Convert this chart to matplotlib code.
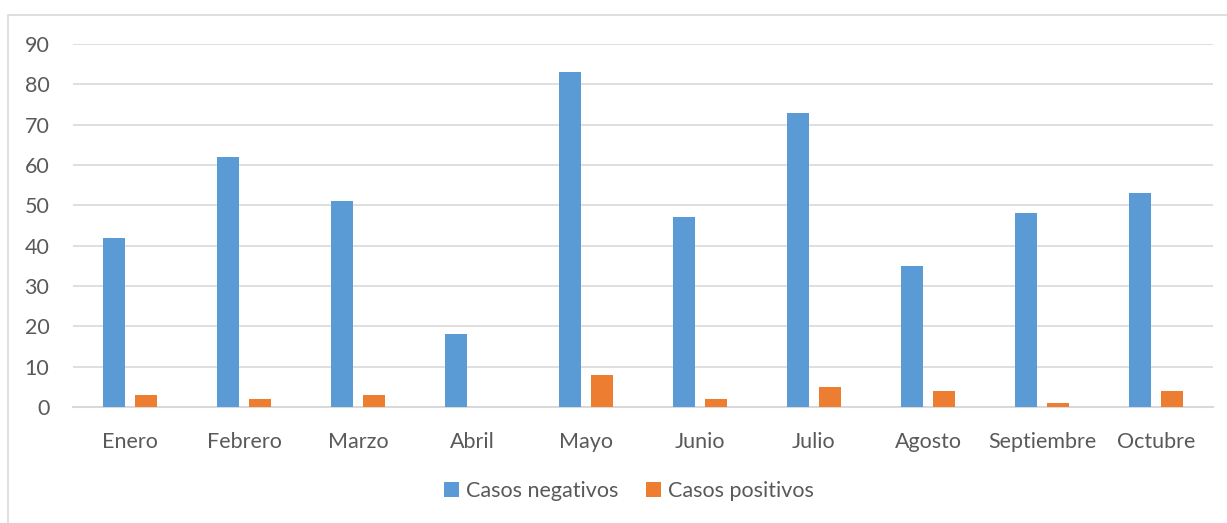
import matplotlib
matplotlib.use('Agg')
import matplotlib.pyplot as plt
import numpy as np
from matplotlib.patches import Rectangle

meses = ['Enero', 'Febrero', 'Marzo', 'Abril', 'Mayo', 'Junio',
         'Julio', 'Agosto', 'Septiembre', 'Octubre']
negativos = [42, 62, 51, 18, 83, 47, 73, 35, 48, 53]
positivos = [3, 2, 3, 0, 8, 2, 5, 4, 1, 4]

azul = '#5b9bd5'
naranja = '#ed7d31'
gris_txt = '#595959'

plt.rcParams['font.family'] = ['Lato', 'DejaVu Sans']

fig = plt.figure(figsize=(12.27, 5.23), dpi=100)
# marco exterior del grafico
fig.patches.append(Rectangle((8 / 1227, -0.01), 1.0, 1 - 15 / 523 + 0.01,
                             transform=fig.transFigure, fill=False,
                             edgecolor='#d9d9d9', linewidth=1.2))

ax = fig.add_axes([73 / 1227, 1 - 407 / 523, 1140 / 1227, (407 - 44) / 523])

x = np.arange(len(meses))
w = 0.2
ax.bar(x - 0.14, negativos, w, color=azul, label='Casos negativos', zorder=3)
ax.bar(x + 0.14, positivos, w, color=naranja, label='Casos positivos', zorder=3)

ax.set_xlim(-0.5, len(meses) - 0.5)
ax.set_ylim(0, 90)
ax.set_yticks(range(0, 91, 10))
ax.set_xticks(x)
ax.set_xticklabels(meses)
ax.tick_params(axis='both', length=0, labelsize=15.5, colors=gris_txt)
ax.tick_params(axis='x', pad=18)
ax.tick_params(axis='y', pad=17)
ax.grid(axis='y', color='#d9d9d9', linewidth=1.2, zorder=0)
for s in ['top', 'right', 'left']:
    ax.spines[s].set_visible(False)
ax.spines['bottom'].set_color('#d9d9d9')
ax.spines['bottom'].set_linewidth(1.5)

fig.legend(loc='center', bbox_to_anchor=(629 / 1227, 1 - 491 / 523), ncol=2,
           frameon=False, fontsize=15.5, labelcolor=gris_txt,
           handlelength=0.7, handleheight=0.7, handletextpad=0.3,
           columnspacing=1.3)

fig.savefig('out.png', dpi=100)
